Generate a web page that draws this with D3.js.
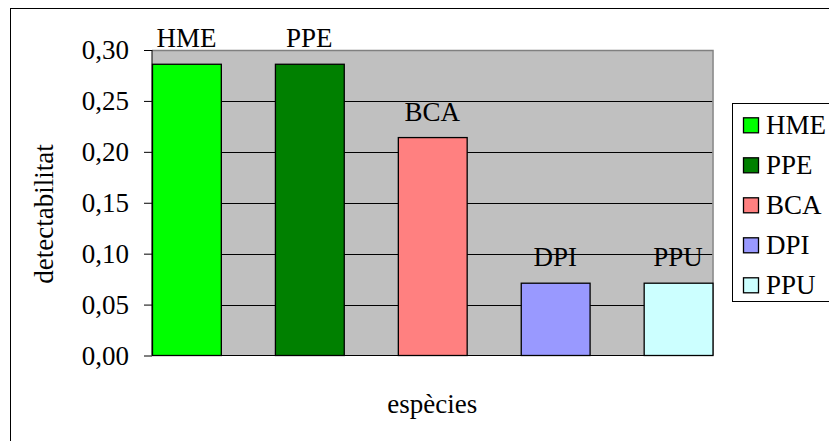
<!DOCTYPE html>
<html>
<head>
<meta charset="utf-8">
<script src="https://cdn.jsdelivr.net/npm/d3@7"></script>
<style>
  body { margin: 0; background: #fff; }
</style>
</head>
<body>
<div id="chart"></div>
<script>
// data
var species = ["HME", "PPE", "BCA", "DPI", "PPU"];
var detectability = [0.286, 0.286, 0.214, 0.071, 0.071];
var barColors = ["#00ff00", "#008000", "#ff8080", "#9999ff", "#ccffff"];
var yTicks = [0, 0.05, 0.10, 0.15, 0.20, 0.25, 0.30];

var fontFamily = "'Liberation Serif', 'Times New Roman', serif";
var fontSize = 27;

// svg container
var svgWidth = 829;
var svgHeight = 441;

// plot area
var plot = { left: 152, top: 50, right: 712.5, bottom: 355.5 };

var svg = d3.select("#chart").append("svg")
  .attr("width", svgWidth)
  .attr("height", svgHeight)
  .style("font-family", fontFamily);

// chart border
svg.append("rect")
  .attr("x", 10.5).attr("y", 8.5)
  .attr("width", 830).attr("height", 450)
  .attr("fill", "#fff")
  .attr("stroke", "#000");

// scales
var x = d3.scaleBand()
  .domain(species)
  .range([plot.left, plot.right])
  .paddingInner(0.44)
  .paddingOuter(0);

var y = d3.scaleLinear()
  .domain([0, 0.30])
  .range([plot.bottom, plot.top]);

// plot background
svg.append("rect")
  .attr("x", plot.left).attr("y", plot.top)
  .attr("width", plot.right - plot.left)
  .attr("height", plot.bottom - plot.top)
  .attr("fill", "#c0c0c0");

// gridlines
svg.append("g").selectAll("line")
  .data(yTicks.filter(d => d > 0 && d < 0.30))
  .enter().append("line")
  .attr("x1", plot.left).attr("x2", plot.right)
  .attr("y1", d => Math.round(y(d)) + 0.5)
  .attr("y2", d => Math.round(y(d)) + 0.5)
  .attr("stroke", "#000")
  .attr("stroke-width", 1);

// plot border (top and right)
svg.append("path")
  .attr("d", `M${plot.left},${plot.top + 0.5}H${plot.right + 0.5}V${plot.bottom}`)
  .attr("fill", "none")
  .attr("stroke", "#808080")
  .attr("stroke-width", 1.5);

// bars
svg.append("g").selectAll("rect")
  .data(species)
  .enter().append("rect")
  .attr("x", d => x(d) + 0.5)
  .attr("y", (d, i) => y(detectability[i]))
  .attr("width", x.bandwidth())
  .attr("height", (d, i) => y(0) - y(detectability[i]))
  .attr("fill", (d, i) => barColors[i])
  .attr("stroke", "#000")
  .attr("stroke-width", 1.3);

// y axis
var yAxis = d3.axisLeft(y)
  .tickValues(yTicks)
  .tickSize(8)
  .tickPadding(15)
  .tickFormat(d => d3.format(".2f")(d).replace(".", ","));

var yAxisG = svg.append("g")
  .attr("transform", `translate(${plot.left},0)`)
  .call(yAxis)
  .attr("font-family", fontFamily)
  .attr("font-size", fontSize);
yAxisG.selectAll("text").attr("fill", "#000");
yAxisG.selectAll("line,path").attr("stroke", "#000");
yAxisG.select(".domain").attr("d", `M0,${plot.top}V${plot.bottom}`);

// x axis line
svg.append("line")
  .attr("x1", plot.left).attr("x2", plot.right)
  .attr("y1", plot.bottom).attr("y2", plot.bottom)
  .attr("stroke", "#000");

// value labels above bars
svg.append("g").selectAll("text")
  .data(species)
  .enter().append("text")
  .attr("x", d => x(d) + x.bandwidth() / 2)
  .attr("y", (d, i) => y(detectability[i]) - 17)
  .attr("text-anchor", "middle")
  .style("font-size", fontSize + "px")
  .text(d => d);

// axis titles
svg.append("text")
  .attr("transform", "translate(53, 214) rotate(-90)")
  .attr("text-anchor", "middle")
  .style("font-size", fontSize + "px")
  .text("detectabilitat");

svg.append("text")
  .attr("x", (plot.left + plot.right) / 2)
  .attr("y", 413)
  .attr("text-anchor", "middle")
  .style("font-size", fontSize + "px")
  .text("espècies");

// legend
var legend = svg.append("g");
legend.append("rect")
  .attr("x", 732.5).attr("y", 103.5)
  .attr("width", 120).attr("height", 198)
  .attr("fill", "#fff")
  .attr("stroke", "#000");

var legendY = d3.scalePoint()
  .domain(species)
  .range([125.3, 285.3]);

var items = legend.selectAll("g.item")
  .data(species)
  .enter().append("g")
  .attr("class", "item")
  .attr("transform", d => `translate(0, ${legendY(d)})`);

items.append("rect")
  .attr("x", 743.5).attr("y", -7.5)
  .attr("width", 15).attr("height", 15)
  .attr("fill", (d, i) => barColors[i])
  .attr("stroke", "#000")
  .attr("stroke-width", 1.3);

items.append("text")
  .attr("x", 766)
  .attr("y", 9)
  .style("font-size", fontSize + "px")
  .text(d => d);
</script>
</body>
</html>
